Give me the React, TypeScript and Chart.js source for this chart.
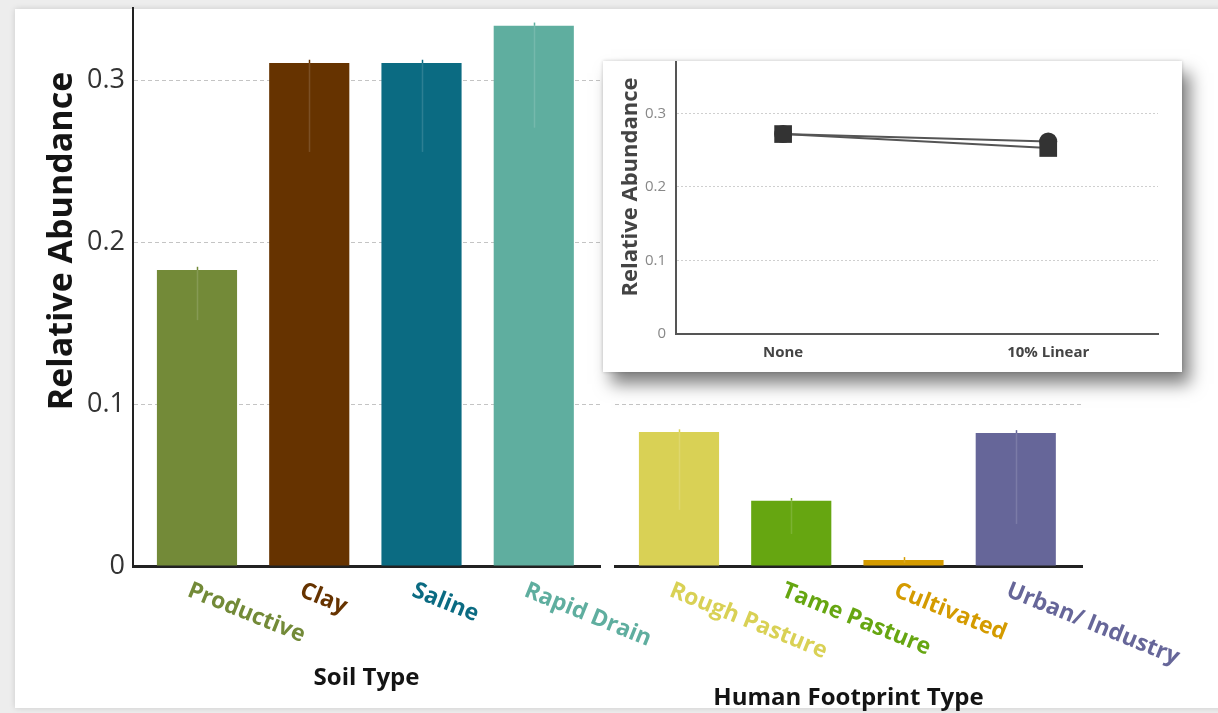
import React, { useEffect, useRef } from "react";
import { Chart, registerables } from "chart.js";
Chart.register(...registerables);

const FONT = "'Open Sans', 'Noto Sans', sans-serif";

// ---- Data ----
const soilCategories = ["Productive", "Clay", "Saline", "Rapid Drain"];
const soilValues = [0.183, 0.311, 0.311, 0.334];
const soilUpper = [0.185, 0.313, 0.313, 0.336];
const soilLower = [0.152, 0.256, 0.256, 0.271];
const soilColors = ["#738a38", "#663300", "#0b6b82", "#5fae9f"];

const footprintCategories = ["Rough Pasture", "Tame Pasture", "Cultivated", "Urban/ Industry"];
const footprintValues = [0.0828, 0.0404, 0.0037, 0.0822];
const footprintUpper = [0.0845, 0.042, 0.0055, 0.084];
const footprintLower = [0.0347, 0.0198, 0.002, 0.026];
const footprintColors = ["#d9d155", "#66a611", "#d49b00", "#666699"];

const yTickValues = [0, 0.1, 0.2, 0.3];

const insetCategories = ["None", "10% Linear"];
const insetSquare = [0.272, 0.253];
const insetCircle = [0.272, 0.262];
const insetTickValues = [0, 0.1, 0.2, 0.3];

function panelPlugin(
  categories: string[],
  values: number[],
  upper: number[],
  lower: number[],
  colors: string[],
  title: string,
  titleY: number,
  drawYTitle: boolean
) {
  return {
    id: "panelDeco",
    afterDatasetsDraw(chart: any) {
      const ctx = chart.ctx;
      const xs = chart.scales.x;
      const ys = chart.scales.y;
      ctx.save();
      categories.forEach((_, i) => {
        const x = Math.round(xs.getPixelForValue(i)) + 0.5;
        const yTop = ys.getPixelForValue(upper[i]);
        const yBar = ys.getPixelForValue(values[i]);
        const yLow = ys.getPixelForValue(lower[i]);
        ctx.lineWidth = 1.5;
        ctx.strokeStyle = colors[i];
        ctx.beginPath();
        ctx.moveTo(x, yTop);
        ctx.lineTo(x, yBar);
        ctx.stroke();
        ctx.strokeStyle = "rgba(255,255,255,0.14)";
        ctx.beginPath();
        ctx.moveTo(x, yBar);
        ctx.lineTo(x, yLow);
        ctx.stroke();
      });
      ctx.restore();
    },
    afterDraw(chart: any) {
      const ctx = chart.ctx;
      const xs = chart.scales.x;
      const area = chart.chartArea;
      ctx.save();
      // rotated category labels
      categories.forEach((label, i) => {
        const x = xs.getPixelForValue(i);
        ctx.save();
        ctx.translate(x - 4, area.bottom + 13);
        ctx.rotate((22 * Math.PI) / 180);
        ctx.font = `bold 23px ${FONT}`;
        ctx.fillStyle = colors[i];
        ctx.textAlign = "left";
        ctx.textBaseline = "top";
        ctx.fillText(label, 0, 0);
        ctx.restore();
      });
      // axis title
      ctx.font = `bold 24px ${FONT}`;
      ctx.fillStyle = "#141414";
      ctx.textAlign = "center";
      ctx.textBaseline = "alphabetic";
      ctx.fillText(title, (area.left + area.right) / 2, titleY);
      if (drawYTitle) {
        ctx.save();
        ctx.translate(72, 241);
        ctx.rotate(-Math.PI / 2);
        ctx.font = `bold 34px ${FONT}`;
        ctx.fillStyle = "#141414";
        ctx.textAlign = "center";
        ctx.textBaseline = "alphabetic";
        ctx.fillText("Relative Abundance", 0, 0);
        ctx.restore();
      }
      ctx.restore();
    },
  };
}

function barConfig(
  categories: string[],
  values: number[],
  upper: number[],
  lower: number[],
  colors: string[],
  title: string,
  titleY: number,
  showY: boolean,
  padding: any
): any {
  return {
    type: "bar",
    data: {
      datasets: [
        {
          data: categories.map((_, i) => ({ x: i, y: values[i] })),
          backgroundColor: colors,
          borderWidth: 0,
          categoryPercentage: 1,
          barPercentage: 0.714,
        },
      ],
    },
    options: {
      animation: false,
      responsive: false,
      layout: { padding, autoPadding: false },
      plugins: { legend: { display: false }, tooltip: { enabled: false } },
      scales: {
        x: {
          type: "linear",
          offset: false,
          min: -0.57,
          max: 3.59,
          afterBuildTicks: (s: any) => {
            s.ticks = categories.map((_, i) => ({ value: i }));
          },
          grid: { display: false, drawTicks: false },
          border: { display: true, color: "#222", width: 3 },
          ticks: { display: false },
          afterFit: (s: any) => {
            s.height = 147;
            s.paddingLeft = 0;
            s.paddingRight = 0;
          },
        },
        y: {
          min: 0,
          max: 0.345,
          afterBuildTicks: (s: any) => {
            s.ticks = yTickValues.map((v) => ({ value: v }));
          },
          ticks: {
            display: showY,
            color: "#333",
            padding: 8,
            font: { family: FONT, size: 27 },
            callback: (v: any) => String(Math.round(v * 10) / 10),
          },
          grid: {
            drawTicks: false,
            lineWidth: 1,
            color: (c: any) => (c.tick && c.tick.value === 0 ? "rgba(0,0,0,0)" : "#c4c4c4"),
          },
          border: { display: showY, color: "#222", width: 2, dash: [4, 3] },
          afterFit: (s: any) => {
            s.width = showY ? 133 : 0;
            s.paddingTop = 0;
            s.paddingBottom = 0;
          },
        },
      },
    },
    plugins: [panelPlugin(categories, values, upper, lower, colors, title, titleY, showY)],
  };
}

const insetPlugin = {
  id: "insetDeco",
  afterDraw(chart: any) {
    const ctx = chart.ctx;
    ctx.save();
    ctx.translate(34, 126);
    ctx.rotate(-Math.PI / 2);
    ctx.font = `bold 22px ${FONT}`;
    ctx.fillStyle = "#444";
    ctx.textAlign = "center";
    ctx.textBaseline = "alphabetic";
    ctx.fillText("Relative Abundance", 0, 0);
    ctx.restore();
  },
};

function insetConfig(): any {
  return {
    type: "line",
    data: {
      datasets: [
        {
          data: insetCategories.map((_, i) => ({ x: i, y: insetSquare[i] })),
          borderColor: "#555",
          borderWidth: 2,
          pointStyle: "rect",
          pointRadius: 12.5,
          pointBackgroundColor: "#333",
          pointBorderColor: "#333",
          pointBorderWidth: 0,
        },
        {
          data: insetCategories.map((_, i) => ({ x: i, y: insetCircle[i] })),
          borderColor: "#555",
          borderWidth: 2,
          pointStyle: "circle",
          pointRadius: 9,
          pointBackgroundColor: "#333",
          pointBorderColor: "#333",
          pointBorderWidth: 0,
        },
      ],
    },
    options: {
      animation: false,
      responsive: false,
      layout: { padding: { left: 0, top: 1, right: 24, bottom: 0 }, autoPadding: false },
      plugins: { legend: { display: false }, tooltip: { enabled: false } },
      scales: {
        x: {
          type: "linear",
          offset: false,
          min: -0.404,
          max: 1.414,
          afterBuildTicks: (s: any) => {
            s.ticks = insetCategories.map((_, i) => ({ value: i }));
          },
          ticks: {
            color: "#444",
            padding: 10,
            font: { family: FONT, size: 15, weight: "bold" },
            callback: (v: any) => insetCategories[v],
          },
          grid: { display: false, drawTicks: false },
          border: { display: true, color: "#555", width: 2 },
          afterFit: (s: any) => {
            s.height = 38;
            s.paddingLeft = 0;
            s.paddingRight = 0;
          },
        },
        y: {
          min: 0,
          max: 0.37,
          afterBuildTicks: (s: any) => {
            s.ticks = insetTickValues.map((v) => ({ value: v }));
          },
          ticks: {
            color: "#888",
            padding: 10,
            font: { family: FONT, size: 15 },
            callback: (v: any) => String(Math.round(v * 10) / 10),
          },
          grid: {
            drawTicks: false,
            color: (c: any) => (c.tick && c.tick.value === 0 ? "rgba(0,0,0,0)" : "#cfcfcf"),
          },
          border: { display: true, color: "#555", width: 2, dash: [2, 2] },
          afterFit: (s: any) => {
            s.width = 73;
            s.paddingTop = 0;
            s.paddingBottom = 0;
          },
        },
      },
    },
    plugins: [insetPlugin],
  };
}

export default function App() {
  const c1 = useRef<HTMLCanvasElement>(null);
  const c2 = useRef<HTMLCanvasElement>(null);
  const c3 = useRef<HTMLCanvasElement>(null);

  useEffect(() => {
    Chart.defaults.font.family = FONT;
    const ch1 = new Chart(
      c1.current!,
      barConfig(soilCategories, soilValues, soilUpper, soilLower, soilColors, "Soil Type", 685, true, {
        left: 0,
        top: 8,
        right: 100,
        bottom: 0,
      })
    );
    const ch2 = new Chart(
      c2.current!,
      barConfig(
        footprintCategories,
        footprintValues,
        footprintUpper,
        footprintLower,
        footprintColors,
        "Human Footprint Type",
        705,
        false,
        { left: 5, top: 8, right: 128, bottom: 0 }
      )
    );
    const ch3 = new Chart(c3.current!, insetConfig());
    return () => {
      ch1.destroy();
      ch2.destroy();
      ch3.destroy();
    };
  }, []);

  return (
    <div
      style={{
        position: "absolute",
        left: 0,
        top: 0,
        width: 1218,
        height: 713,
        background: "#ededed",
        overflow: "hidden",
      }}
    >
      <div
        style={{
          position: "absolute",
          left: 15,
          top: 9,
          width: 1210,
          height: 699,
          background: "#fff",
          boxShadow: "0 0 6px rgba(0,0,0,0.15)",
        }}
      />
      <canvas
        ref={c1}
        width={700}
        height={713}
        style={{ position: "absolute", left: 0, top: 0, display: "block" }}
      />
      <canvas
        ref={c2}
        width={600}
        height={713}
        style={{ position: "absolute", left: 610, top: 0, display: "block" }}
      />
      <div
        style={{
          position: "absolute",
          left: 603,
          top: 61,
          width: 579,
          height: 311,
          background: "#fff",
          boxShadow: "0 0 4px rgba(0,0,0,0.2), 8px 12px 16px rgba(0,0,0,0.5)",
        }}
      >
        <canvas ref={c3} width={579} height={311} style={{ display: "block" }} />
      </div>
    </div>
  );
}
